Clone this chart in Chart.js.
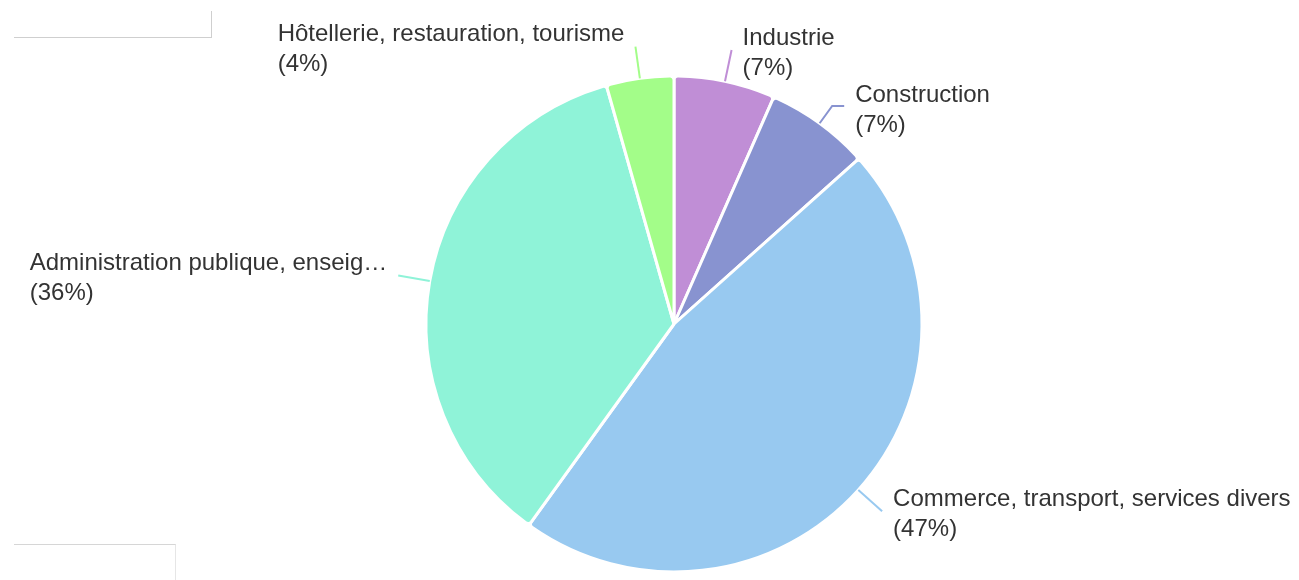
<!DOCTYPE html>
<html>
<head>
<meta charset="utf-8">
<script src="https://cdn.jsdelivr.net/npm/chart.js@4/dist/chart.umd.min.js"></script>
<style>
  html, body { margin: 0; padding: 0; background: #fff; }
  #wrap { position: relative; width: 1299px; height: 580px; overflow: hidden; }
  #c { position: absolute; left: 0; top: 0; }
  .ghost1 { position: absolute; left: 14px; top: 11px; width: 197px; height: 26px;
            border-right: 1px solid #cfcfcf; border-bottom: 1px solid #cfcfcf; }
  .ghost2 { position: absolute; left: 14px; top: 544px; width: 161px; height: 60px;
            border-top: 1px solid #d6d6d6; border-right: 1px solid #e6e6e6; }
</style>
</head>
<body>
<div id="wrap">
  <canvas id="c" width="1299" height="580"></canvas>
  <div class="ghost1"></div>
  <div class="ghost2"></div>
</div>
<script>
const categories = [
  "Industrie",
  "Construction",
  "Commerce, transport, services divers",
  "Administration publique, enseignement, santé, social",
  "Hôtellerie, restauration, tourisme"
];
const values = [6.6, 6.8, 46.6, 35.7, 4.4];
const colors = ["#c08ed6", "#8893d0", "#98c9f0", "#8ff3d8", "#a3fd89"];

const FONT = '24px "Liberation Sans", Arial, sans-serif';
const LINE_H = 30;

function fitText(ctx, text, maxW) {
  if (ctx.measureText(text).width <= maxW) return text;
  let t = text;
  while (t.length > 0 && ctx.measureText(t + "…").width > maxW) t = t.slice(0, -1);
  return t.replace(/\s+$/, "") + "…";
}

const labelPlugin = {
  id: "outLabels",
  afterDraw(chart) {
    const ctx = chart.ctx;
    const meta = chart.getDatasetMeta(0);
    const data = chart.data.datasets[0].data;
    const total = data.reduce((a, b) => a + b, 0);
    const W = chart.width;
    const items = meta.data.map((arc, i) => {
      const mid = (arc.startAngle + arc.endAngle) / 2;
      const cos = Math.cos(mid), sin = Math.sin(mid);
      const r0 = arc.outerRadius, r1 = r0 + 32;
      return {
        i, arc, cos, sin,
        sx: arc.x + cos * r0, sy: arc.y + sin * r0,
        ex: arc.x + cos * r1, ey: arc.y + sin * r1,
        right: cos >= 0,
        cy: arc.y + sin * r1 + 3,
        adjusted: false
      };
    });
    [true, false].forEach(side => {
      const list = items.filter(it => it.right === side).sort((a, b) => a.cy - b.cy);
      for (let k = 1; k < list.length; k++) {
        const minY = list[k - 1].cy + 57;
        if (list[k].cy < minY) { list[k].cy = minY; list[k].adjusted = true; }
      }
    });
    ctx.save();
    ctx.font = FONT;
    items.forEach(it => {
      const dir = it.right ? 1 : -1;
      let lx, ly;
      ctx.beginPath();
      ctx.strokeStyle = colors[it.i];
      ctx.lineWidth = 2;
      ctx.moveTo(it.sx, it.sy);
      if (it.adjusted) {
        ly = it.cy - 4;
        const t = (ly - it.arc.y) / it.sin;
        const px = it.arc.x + it.cos * t;
        ctx.lineTo(px, ly);
        lx = px + dir * 12;
        ctx.lineTo(lx, ly);
      } else {
        lx = it.ex; ly = it.ey;
        ctx.lineTo(lx, ly);
      }
      ctx.stroke();
      const tx = lx + dir * 11;
      const avail = it.right ? (W - 2 - tx) : (tx - 20);
      const pct = Math.round(data[it.i] / total * 100);
      const line1 = fitText(ctx, categories[it.i], avail);
      const line2 = "(" + pct + "%)";
      ctx.fillStyle = "#333333";
      ctx.textBaseline = "middle";
      ctx.textAlign = it.right ? "left" : "right";
      if (it.right) {
        ctx.fillText(line1, tx, it.cy - LINE_H / 2);
        ctx.fillText(line2, tx, it.cy + LINE_H / 2);
      } else {
        const w1 = ctx.measureText(line1).width;
        ctx.textAlign = "left";
        ctx.fillText(line1, tx - w1, it.cy - LINE_H / 2);
        ctx.fillText(line2, tx - w1, it.cy + LINE_H / 2);
      }
    });
    ctx.restore();
  }
};

new Chart(document.getElementById("c"), {
  type: "pie",
  data: {
    labels: categories,
    datasets: [{
      data: values,
      backgroundColor: colors,
      borderColor: "#ffffff",
      borderWidth: 3,
      borderRadius: 4,
      hoverOffset: 0
    }]
  },
  options: {
    responsive: false,
    animation: false,
    radius: 248,
    layout: { padding: { left: 49, right: 0, top: 68, bottom: 0 } },
    plugins: { legend: { display: false }, tooltip: { enabled: false } }
  },
  plugins: [labelPlugin]
});
</script>
</body>
</html>
